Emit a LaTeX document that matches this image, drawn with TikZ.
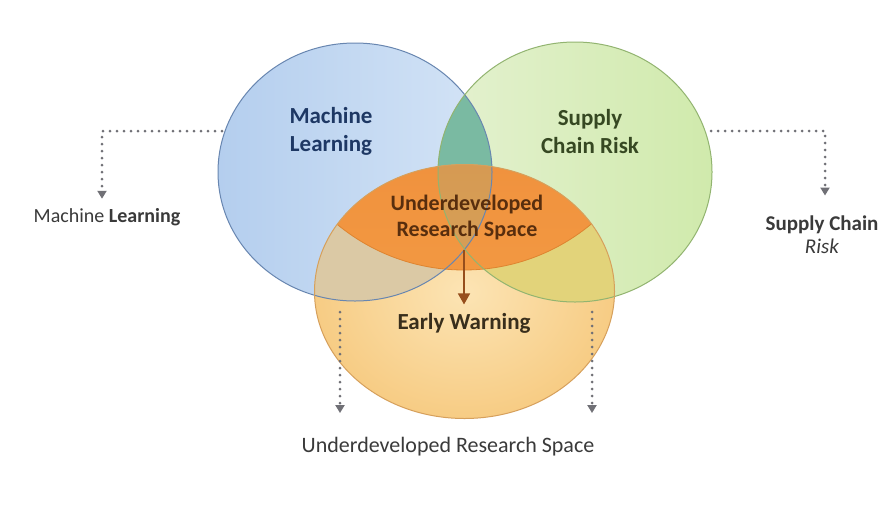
\documentclass[tikz,border=0pt]{standalone}
\usepackage{fontspec}
\setmainfont{Carlito}
\usepackage{xcolor}
\usepackage{tikz}
\usetikzlibrary{shapes, arrows.meta}

\definecolor{mlfillA}{RGB}{180,206,238}
\definecolor{mlfillB}{RGB}{212,228,246}
\definecolor{mlline}{RGB}{104,134,176}
\definecolor{scrfillA}{RGB}{228,241,208}
\definecolor{scrfillB}{RGB}{208,234,172}
\definecolor{scrline}{RGB}{146,180,112}
\definecolor{ewfillA}{RGB}{252,228,180}
\definecolor{ewfillB}{RGB}{247,204,132}
\definecolor{ewline}{RGB}{214,160,92}
\definecolor{lensteal}{RGB}{122,186,162}
\definecolor{lenstan}{RGB}{219,201,165}
\definecolor{lensolive}{RGB}{226,211,122}
\definecolor{gapA}{RGB}{240,146,62}
\definecolor{gapB}{RGB}{246,160,70}
\definecolor{gapline}{RGB}{222,132,48}
\definecolor{mlnavy}{RGB}{30,56,100}
\definecolor{scrgreen}{RGB}{54,72,34}
\definecolor{gapbrown}{RGB}{88,46,14}
\definecolor{ewdark}{RGB}{56,46,28}
\definecolor{capgray}{RGB}{58,58,58}
\definecolor{dotgray}{RGB}{112,112,118}
\definecolor{arrowbrown}{RGB}{150,78,28}

% the three sets and the lens of the gap
\newcommand{\mlset}{(355,172) ellipse [x radius=137pt, y radius=129pt]}
\newcommand{\scrset}{(575,172) ellipse [x radius=137pt, y radius=130pt]}
\newcommand{\ewset}{(464.5,291.5) ellipse [x radius=150pt, y radius=127pt]}
\newcommand{\gapcut}{(464,71) circle [radius=199pt]}

\tikzstyle{title} = [text centered, align=center, font=\bfseries\fontsize{23}{28}\selectfont]
\tikzstyle{caption} = [text centered, align=center, text=capgray, font=\fontsize{20}{23}\selectfont]
\tikzstyle{dotconnector} = [draw, dotgray, line width=3pt, line cap=round, dash pattern=on 0pt off 7pt, -{Triangle[width=9pt,length=8pt]}]
\tikzstyle{connector} = [draw, arrowbrown, line width=1.6pt, -{Triangle[width=12pt,length=11pt]}]

\begin{document}
\begin{tikzpicture}[x=1pt, y=-1pt]
        \useasboundingbox (0,0) rectangle (893,517);
        \fill[white] (0,0) rectangle (893,517);

        \shade[left color=mlfillA, right color=mlfillB] \mlset;
        \shade[left color=scrfillA, right color=scrfillB] \scrset;
        \begin{scope}
            \clip \mlset;
            \fill[lensteal] \scrset;
        \end{scope}

        \shade[inner color=ewfillA, outer color=ewfillB] \ewset;
        \begin{scope}
            \clip \ewset;
            \fill[lenstan] \mlset;
            \fill[lensolive] \scrset;
            \clip \gapcut;
            \shade[top color=gapA, bottom color=gapB] \ewset;
            \clip \mlset;
            \fill[lensteal, opacity=0.22] \scrset;
        \end{scope}

        \begin{scope}
            \clip \ewset;
            \draw[gapline, line width=0.8pt] \gapcut;
        \end{scope}
        \draw[mlline, line width=1pt] \mlset;
        \draw[scrline, line width=1pt] \scrset;
        \draw[ewline, line width=1pt] \ewset;

        \node [title, text=mlnavy] (ml) at (331,131) {Machine\\Learning};
        \node [title, text=scrgreen] (scr) at (590,132) {Supply\\Chain Risk};
        \node [title, text=gapbrown, font=\bfseries\fontsize{22}{26}\selectfont] (gap) at (467,218)
        {Underdeveloped\\Research Space};
        \node [title, text=ewdark] (ew) at (464,323) {Early Warning};

        \node [caption] (mllabel) at (107,217) {Machine \textbf{Learning}};
        \node [caption, font=\fontsize{21}{23}\selectfont] (scrlabel) at (822,235) {\textbf{Supply Chain}\\\textit{Risk}};
        \node [caption, font=\fontsize{22}{25}\selectfont] (gaplabel) at (448,447)
        {Underdeveloped Research Space};

        \coordinate (mlport) at (222,131);
        \coordinate (scrport) at (711,131);
        \coordinate (ewleft) at (340,312);
        \coordinate (ewright) at (592,312);

        \path [dotconnector, shorten >=6pt] (mlport) -| ([xshift=-5pt]mllabel.north);
        \path [dotconnector, shorten >=17pt] (scrport) -| ([xshift=3pt]scrlabel.north);
        \path [dotconnector, shorten >=21pt] (ewleft) -- (ewleft |- gaplabel.north);
        \path [dotconnector, shorten >=21pt] (ewright) -- (ewright |- gaplabel.north);
        \path [connector, shorten <=6pt, shorten >=5pt] (ew.north |- gap.south) -- (ew.north);
    \end{tikzpicture}
\end{document}
